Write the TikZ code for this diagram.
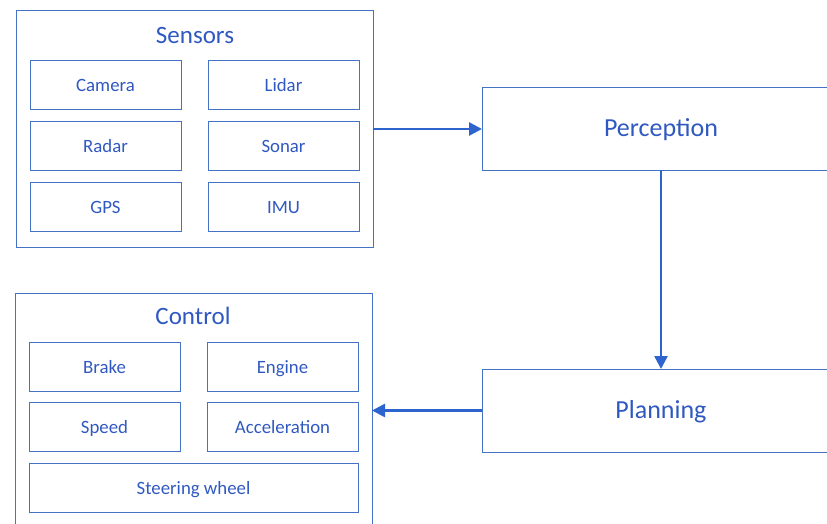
\documentclass[tikz,border=0pt]{standalone}
\usepackage{fontspec}
\setmainfont{Carlito}
\usetikzlibrary{arrows.meta,calc}
\definecolor{linecol}{RGB}{68,114,196}
\definecolor{textcol}{RGB}{47,88,192}
\definecolor{arrowcol}{RGB}{45,100,205}
\tikzset{
  box/.style={draw=linecol, line width=1pt, rectangle, inner sep=0pt, outer sep=0pt, text=textcol, text depth=0pt},
  smallbox/.style={box, minimum width=151pt, minimum height=49pt, text height=13pt, font=\fontsize{18.8}{20}\selectfont},
  bigbox/.style={box, text height=15pt, font=\fontsize{26}{28}\selectfont},
  titletext/.style={text=textcol, inner sep=0pt, font=\fontsize{25}{27}\selectfont},
  flow/.style={draw=arrowcol, line width=2.6pt, -{Triangle[length=13pt,width=13pt]}}
}
\begin{document}
\begin{tikzpicture}[x=1pt,y=-1pt]
\useasboundingbox (0,0) rectangle (827,524);
% Sensors group
\node[box, minimum width=357pt, minimum height=236pt] (sensors) at (194.5,129) {};
\node[titletext] (sensorstitle) at (195,35) {Sensors};
\node[smallbox] (camera) at (105.5,85.5) {Camera};
\node[smallbox] (lidar) at (283.5,85.5) {Lidar};
\node[smallbox] (radar) at (105.5,146) {Radar};
\node[smallbox] (sonar) at (283.5,146) {Sonar};
\node[smallbox] (gps) at (105.5,206.5) {GPS};
\node[smallbox] (imu) at (283.5,206.5) {IMU};
% Perception and Planning
\node[bigbox, minimum width=358pt, minimum height=82pt] (perception) at (661,129) {Perception};
\node[bigbox, minimum width=358pt, minimum height=83pt] (planning) at (661,410.5) {Planning};
% Control group
\node[box, minimum width=357pt, minimum height=250pt] (control) at (193.5,418) {};
\node[titletext] (controltitle) at (193,316) {Control};
\node[smallbox] (brake) at (104.5,366.5) {Brake};
\node[smallbox] (engine) at (282.5,366.5) {Engine};
\node[smallbox] (speed) at (104.5,427) {Speed};
\node[smallbox] (accel) at (282.5,427) {Acceleration};
\node[smallbox, minimum width=329pt] (steering) at (193.5,487.5) {Steering wheel};
% Connectors
\draw[flow] (sensors.east) -- (perception.west);
\draw[flow] (perception.south) -- (planning.north);
\draw[flow] (planning.west) -- (planning.west -| control.east);
\end{tikzpicture}
\end{document}
